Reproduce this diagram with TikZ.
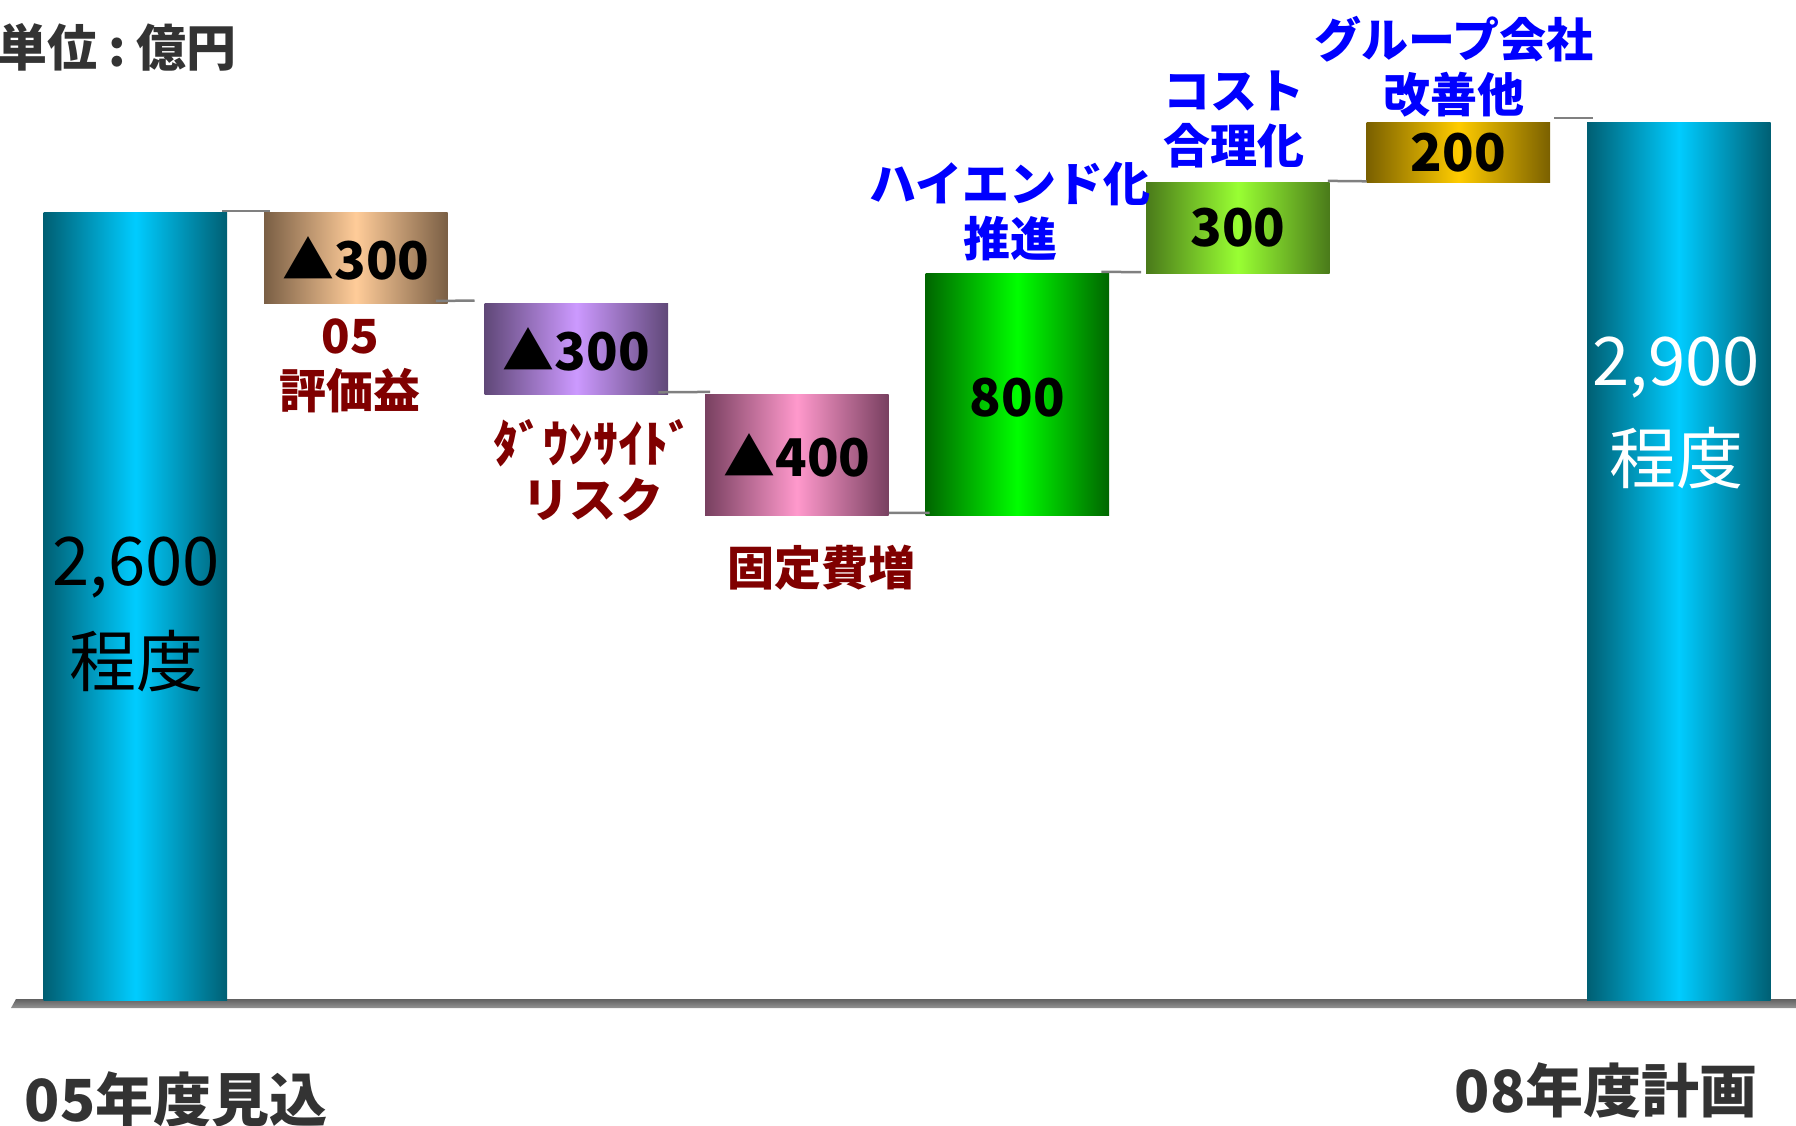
\documentclass[tikz,border=0pt]{standalone}
\usepackage{fontspec}
\setmainfont{Noto Sans CJK JP}
\definecolor{cdark}{HTML}{005F73}
\definecolor{clight}{HTML}{00CCFF}
\definecolor{tdark}{HTML}{7A5F45}
\definecolor{tlight}{HTML}{FFCC99}
\definecolor{pdark}{HTML}{604878}
\definecolor{plight}{HTML}{CC99FF}
\definecolor{kdark}{HTML}{784060}
\definecolor{klight}{HTML}{FF99CC}
\definecolor{gdark}{HTML}{006600}
\definecolor{glight}{HTML}{00FF00}
\definecolor{ydark}{HTML}{4A7A1A}
\definecolor{ylight}{HTML}{99FF33}
\definecolor{odark}{HTML}{7A6000}
\definecolor{olight}{HTML}{FFCC00}
\definecolor{lblred}{HTML}{800000}
\definecolor{lblblue}{HTML}{0000FF}
\definecolor{txtgray}{HTML}{333333}
\definecolor{conngray}{HTML}{808080}
\begin{document}
\begin{tikzpicture}[x=1pt,y=-1pt,
  barbox/.style={draw=none,inner sep=0pt,minimum width=183.5pt,anchor=north west},
  conn/.style={draw=conngray,line width=2.5pt},
  boxnum/.style={font=\fontsize{52}{60}\selectfont\bfseries,text=black,inner sep=0pt},
  totnum/.style={font=\fontsize{67}{80}\selectfont,inner sep=0pt},
  redlbl/.style={font=\fontsize{47}{55}\selectfont\bfseries,text=lblred,align=center,inner sep=0pt},
  bluelbl/.style={font=\fontsize{47}{55}\selectfont\bfseries,text=lblblue,align=center,inner sep=0pt},
  axislbl/.style={font=\fontsize{58}{66}\selectfont\bfseries,text=txtgray,inner sep=0pt}
]
\useasboundingbox (0,0) rectangle (1796,1126);
% floor
\shade[top color=black!62,bottom color=black!42] (16,999) -- (1796,999) -- (1796,1008) -- (11,1008) -- cycle;
% bars
\node[barbox,minimum height=787.3pt,left color=cdark,right color=cdark,middle color=clight] (b0) at (43.5,212.7) {};
\node[barbox,minimum height=90.8pt,left color=tdark,right color=tdark,middle color=tlight] (b1) at (264,212.7) {};
\node[barbox,minimum height=90.8pt,left color=pdark,right color=pdark,middle color=plight] (b2) at (484.5,303.6) {};
\node[barbox,minimum height=121.1pt,left color=kdark,right color=kdark,middle color=klight] (b3) at (705,394.4) {};
\node[barbox,minimum height=242.2pt,left color=gdark,right color=gdark,middle color=glight] (b4) at (925.5,273.3) {};
\node[barbox,minimum height=90.9pt,left color=ydark,right color=ydark,middle color=ylight] (b5) at (1146,182.4) {};
\node[barbox,minimum height=60.5pt,left color=odark,right color=odark,middle color=olight] (b6) at (1366.5,121.9) {};
\node[barbox,minimum height=878.1pt,left color=cdark,right color=cdark,middle color=clight] (b7) at (1587,121.9) {};
% connectors
\draw[conn] ([xshift=-5pt,yshift=1.5pt]b0.north east) -- ([xshift=6pt,yshift=1.5pt]b1.north west);
\draw[conn] ([xshift=-12pt,yshift=3pt]b1.south east) -- ([xshift=-10pt,yshift=3pt]b2.north west);
\draw[conn] ([xshift=-10pt,yshift=2.5pt]b2.south east) -- ([xshift=5pt,yshift=2.5pt]b3.north west);
\draw[conn] ([xshift=0pt,yshift=3pt]b3.south east) -- ([xshift=4pt,yshift=3pt]b4.south west);
\draw[conn] ([xshift=-8pt,yshift=1.5pt]b4.north east) -- ([xshift=-5pt,yshift=1.5pt]b5.south west);
\draw[conn] ([xshift=-2pt,yshift=1.5pt]b5.north east) -- ([xshift=0pt,yshift=1.5pt]b6.south west);
\draw[conn] ([xshift=4pt,yshift=4pt]b6.north east) -- ([xshift=6pt,yshift=4pt]b7.north west);
% box values
\node[boxnum] (v1) at (b1.center) {▲300};
\node[boxnum] (v2) at (b2.center) {▲300};
\node[boxnum] (v3) at (b3.center) {▲400};
\node[boxnum] (v4) at ([yshift=-3pt]b4.center) {800};
\node[boxnum] (v5) at (b5.center) {300};
\node[boxnum] (v6) at (b6.center) {200};
% totals
\node[totnum,text=black] (t0a) at (136,568) {2,600};
\node[totnum,text=black] (t0b) at (136,661) {程度};
\node[totnum,text=white] (t7a) at (1676,368) {2,900};
\node[totnum,text=white] (t7b) at (1676,458) {程度};
% labels
\node[redlbl] (l1) at (350,366) {05\\評価益};
\node[redlbl] (l2) at (593,470) {\fontsize{50}{55}\selectfont ﾀﾞｳﾝｻｲﾄﾞ\\リスク};
\node[redlbl] (l3) at (821,568) {固定費増};
\node[bluelbl] (l4) at (1010,211) {ハイエンド化\\推進};
\node[bluelbl] (l5) at (1234,119) {コスト\\合理化};
\node[bluelbl] (l6) at (1454,67) {グループ会社\\改善他};
% title and axis labels
\node[font=\fontsize{50}{60}\selectfont\bfseries,text=txtgray,inner sep=0pt,anchor=east] (unit) at (237,47) {単位\hspace{0.22em}:\hspace{0.22em}億円};
\node[axislbl] (x0) at (176,1100) {05年度見込};
\node[axislbl] (x7) at (1606,1090) {08年度計画};
\end{tikzpicture}
\end{document}
